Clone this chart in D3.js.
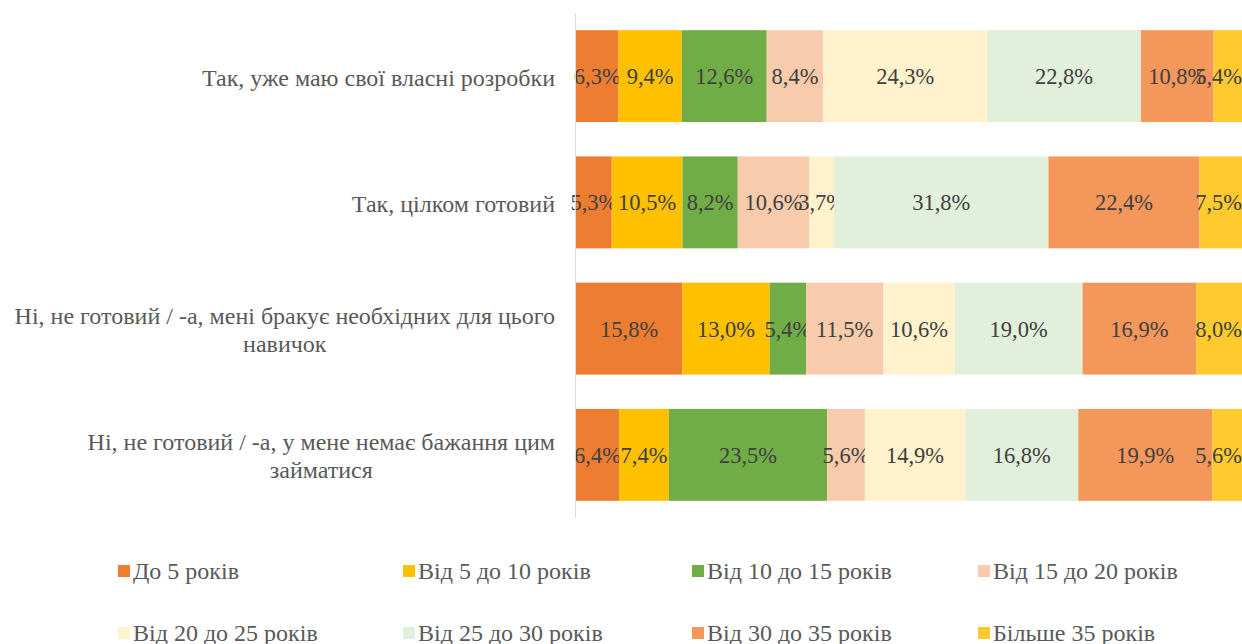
<!DOCTYPE html>
<html lang="uk">

<head>
    <meta charset="UTF-8" />
    <title>Готовність за стажем</title>
    <script src="https://d3js.org/d3.v7.min.js"></script>
    <style>
        body {
            margin: 0;
            background: #fff;
        }

        svg text {
            font-family: "Liberation Serif", "Times New Roman", serif;
        }
    </style>
</head>

<body>
    <div id="chart"></div>

    <script>
        // categories (top to bottom), "\n" = manual line break
        const categories = [
            "Так, уже маю свої власні розробки",
            "Так, цілком готовий",
            "Ні, не готовий / -а, мені бракує необхідних для цього\nнавичок",
            "Ні, не готовий / -а, у мене немає бажання цим\nзайматися"
        ];
        const seriesNames = [
            "До 5 років", "Від 5 до 10 років", "Від 10 до 15 років", "Від 15 до 20 років",
            "Від 20 до 25 років", "Від 25 до 30 років", "Від 30 до 35 років", "Більше 35 років"
        ];
        // values per series, one entry per category
        const s0 = [6.3, 5.3, 15.8, 6.4];
        const s1 = [9.4, 10.5, 13.0, 7.4];
        const s2 = [12.6, 8.2, 5.4, 23.5];
        const s3 = [8.4, 10.6, 11.5, 5.6];
        const s4 = [24.3, 3.7, 10.6, 14.9];
        const s5 = [22.8, 31.8, 19.0, 16.8];
        const s6 = [10.8, 22.4, 16.9, 19.9];
        const s7 = [5.4, 7.5, 8.0, 5.6];
        const seriesValues = [s0, s1, s2, s3, s4, s5, s6, s7];

        const colors = ["#ED7D31", "#FFC000", "#70AD47", "#F8CBAD", "#FFF2CC", "#E2EFDA", "#F4975A", "#FFCA2E"];

        const W = 1242, H = 644;
        // the plot runs past the right edge of the picture (clipped like the original)
        const plot = { left: 576, right: 1250, top: 13, bottom: 518 };

        const rows = categories.map((c, i) => {
            const r = { cat: c };
            seriesNames.forEach((s, j) => r[s] = seriesValues[j][i]);
            return r;
        });

        const stack = d3.stack().keys(seriesNames).offset(d3.stackOffsetExpand);
        const stacked = stack(rows);

        const x = d3.scaleLinear().domain([0, 1]).range([plot.left, plot.right]);
        const y = d3.scaleBand().domain(categories).range([plot.top, plot.bottom]).paddingInner(0.272).paddingOuter(0.136);
        const color = d3.scaleOrdinal().domain(seriesNames).range(colors);

        const svg = d3.select("#chart").append("svg")
            .attr("width", W).attr("height", H);

        // bars
        const layer = svg.append("g").selectAll("g")
            .data(stacked)
            .join("g")
            .attr("fill", d => color(d.key));

        layer.selectAll("rect")
            .data(d => d.map(v => ({ v, key: d.key })))
            .join("rect")
            .attr("x", d => x(d.v[0]))
            .attr("y", d => y(d.v.data.cat))
            .attr("width", d => x(d.v[1]) - x(d.v[0]))
            .attr("height", y.bandwidth());

        // data labels (kept inside the visible width)
        const labels = layer.selectAll("text")
            .data(d => d.map(v => ({ v, key: d.key })))
            .join("text")
            .attr("y", d => y(d.v.data.cat) + y.bandwidth() / 2)
            .attr("dy", "0.35em")
            .attr("text-anchor", "middle")
            .attr("fill", "#404040")
            .style("font-size", "22.5px")
            .text(d => d.v.data[d.key].toFixed(1).replace(".", ",") + "%");

        labels.each(function (d) {
            const w = this.getComputedTextLength();
            const cx = Math.min((x(d.v[0]) + x(d.v[1])) / 2, W - w / 2);
            d3.select(this).attr("x", cx);
        });

        // vertical axis line
        svg.append("line")
            .attr("x1", plot.left - 0.5).attr("x2", plot.left - 0.5)
            .attr("y1", plot.top).attr("y2", plot.bottom)
            .attr("stroke", "#d9d9d9").attr("stroke-width", 1);

        // category labels, lines centred on each other, block right-aligned
        const labelRight = 555;
        categories.forEach(c => {
            const lines = c.split("\n");
            const g = svg.append("g");
            const lh = 28;
            const cy = y(c) + y.bandwidth() / 2;
            const t = g.selectAll("text")
                .data(lines)
                .join("text")
                .attr("y", (d, i) => cy + 1 + (i - (lines.length - 1) / 2) * lh)
                .attr("dy", "0.35em")
                .attr("text-anchor", "middle")
                .attr("fill", "#595959")
                .style("font-size", "24px")
                .text(d => d);
            const maxW = d3.max(t.nodes(), n => n.getComputedTextLength());
            t.attr("x", labelRight - maxW / 2);
        });

        // legend
        const legendCols = [118, 403, 692, 978];
        const legendRows = [571, 633];
        const legend = svg.append("g");
        seriesNames.forEach((s, i) => {
            const g = legend.append("g")
                .attr("transform", `translate(${legendCols[i % 4]},${legendRows[Math.floor(i / 4)]})`);
            g.append("rect")
                .attr("x", 0).attr("y", -6)
                .attr("width", 12).attr("height", 12)
                .attr("fill", color(s));
            g.append("text")
                .attr("x", 15).attr("dy", "0.35em")
                .attr("fill", "#595959")
                .style("font-size", "24px")
                .text(s);
        });
    </script>
</body>

</html>
